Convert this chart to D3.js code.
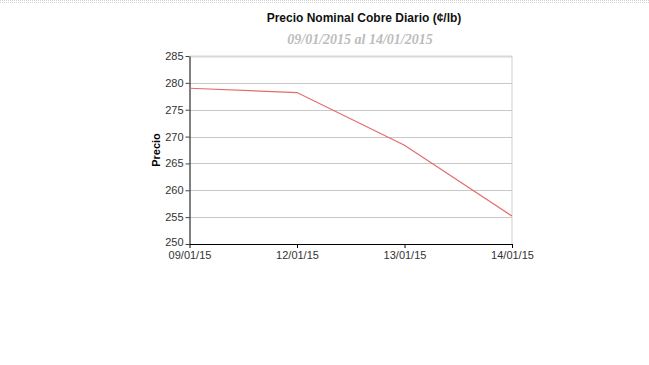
<!DOCTYPE html>
<html>
<head>
<meta charset="utf-8">
<script src="https://cdn.jsdelivr.net/npm/d3@7"></script>
<style>
  body { margin: 0; background: #fff; }
  svg { display: block; }
</style>
</head>
<body>
<div id="chart"></div>
<script>
const dates = ['09/01/15', '12/01/15', '13/01/15', '14/01/15'];
const prices = [279.0, 278.2, 268.4, 255.2];
const yTicks = [250, 255, 260, 265, 270, 275, 280, 285];

const W = 649, H = 365;
const margin = { top: 56, left: 189.5, right: 137, bottom: 121 };
const width = W - margin.left - margin.right;
const height = H - margin.top - margin.bottom;

const svg = d3.select('#chart').append('svg').attr('width', W).attr('height', H);

// dotted top border of the page
[0.5, 2.5].forEach(y => {
  svg.append('line')
    .attr('x1', 0).attr('x2', W).attr('y1', y).attr('y2', y)
    .attr('stroke', '#d4d4d4').attr('stroke-dasharray', '1,1');
});

svg.append('text')
  .attr('x', 364).attr('y', 22)
  .attr('text-anchor', 'middle')
  .style('font', 'bold 12px Arial, "Liberation Sans", sans-serif')
  .style('fill', '#111')
  .text('Precio Nominal Cobre Diario (¢/lb)');

svg.append('text')
  .attr('x', 360).attr('y', 44)
  .attr('text-anchor', 'middle')
  .style('font', 'italic bold 14px "Times New Roman", "Liberation Serif", serif')
  .style('fill', '#bcbcbc')
  .text('09/01/2015 al 14/01/2015');

const g = svg.append('g').attr('transform', `translate(${margin.left},${margin.top})`);

const x = d3.scalePoint().domain(dates).range([0, width]);
const y = d3.scaleLinear().domain([250, 285]).range([height, 0]);

// gridlines
g.append('g').selectAll('line')
  .data(yTicks.filter(t => t > 250))
  .enter().append('line')
  .attr('x1', 0).attr('x2', width)
  .attr('y1', d => Math.round(y(d)) + 0.5).attr('y2', d => Math.round(y(d)) + 0.5)
  .attr('stroke', d => d === 285 ? '#d8d8d8' : '#c8c8c8')
  .attr('stroke-width', d => d === 285 ? 2 : 1);

// right border
g.append('line')
  .attr('x1', width).attr('x2', width).attr('y1', 0).attr('y2', height)
  .attr('stroke', '#cfcfcf');

const axisFont = '11px Arial, "Liberation Sans", sans-serif';

const yAxis = g.append('g')
  .call(d3.axisLeft(y).tickValues(yTicks).tickSize(4).tickPadding(2).tickSizeOuter(0));
yAxis.select('.domain').attr('stroke', '#000');
yAxis.selectAll('.tick line').attr('stroke', '#444');
yAxis.selectAll('text').style('font', axisFont).style('fill', '#333');
// lift the bottom label a touch so it clears the first date label
yAxis.selectAll('.tick').filter(d => d === 250).select('text').attr('dy', '0.15em');

const xAxis = g.append('g')
  .attr('transform', `translate(0,${height})`)
  .call(d3.axisBottom(x).tickSize(4).tickPadding(3).tickSizeOuter(0));
xAxis.select('.domain').attr('stroke', '#000');
xAxis.selectAll('.tick line').attr('stroke', '#000');
xAxis.selectAll('text').style('font', axisFont).style('fill', '#333');

svg.append('text')
  .attr('transform', `translate(160,${margin.top + height / 2}) rotate(-90)`)
  .attr('text-anchor', 'middle')
  .style('font', 'bold 11px Arial, "Liberation Sans", sans-serif')
  .style('fill', '#000')
  .text('Precio');

const line = d3.line()
  .x((d, i) => x(dates[i]))
  .y(d => y(d));

g.append('path')
  .datum(prices)
  .attr('fill', 'none')
  .attr('stroke', '#e36c6c')
  .attr('stroke-width', 1.2)
  .attr('d', line);
</script>
</body>
</html>
